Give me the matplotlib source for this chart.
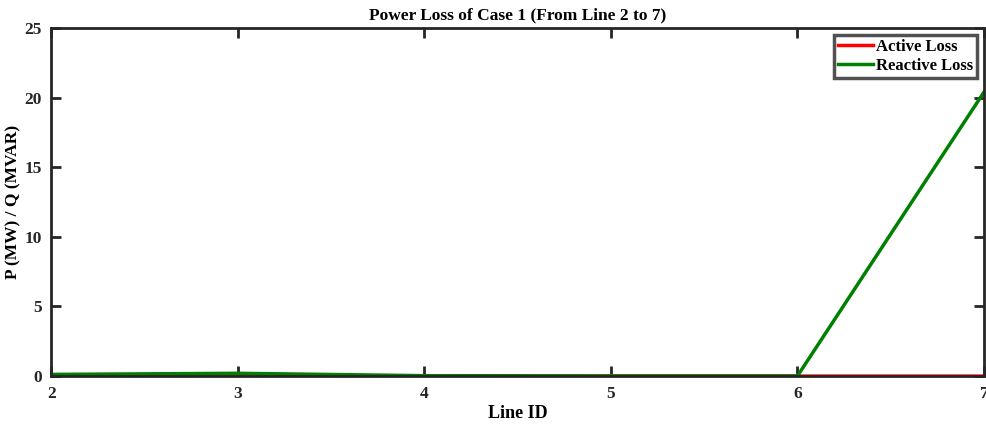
import matplotlib.pyplot as plt

plt.rcParams['font.family'] = ['Liberation Serif', 'DejaVu Serif']
plt.rcParams['font.weight'] = 'bold'

# loss per line, case 1
line_id = [2, 3, 4, 5, 6, 7]
active_loss = [0.02, 0.05, 0.01, 0.0, 0.0, 0.0]
reactive_loss = [0.12, 0.2, 0.03, 0.01, 0.01, 20.4]

fig = plt.figure(figsize=(9.86, 4.24), dpi=100)
ax = fig.add_axes([0.052, 0.113, 0.946, 0.821])

ax.plot(line_id, active_loss, color='red', linewidth=2.5, label='Active Loss')
ax.plot(line_id, reactive_loss, color='green', linewidth=2.5, label='Reactive Loss')

ax.set_xlim(2, 7)
ax.set_ylim(0, 25)
ax.set_xticks([2, 3, 4, 5, 6, 7])
ax.set_yticks([0, 5, 10, 15, 20, 25])
ax.tick_params(direction='in', length=7, width=2, top=True, right=True,
               labelsize=12.5, colors='#262626')
ax.tick_params(axis='x', pad=7)
ax.tick_params(axis='y', pad=7)
for lbl in ax.get_xticklabels() + ax.get_yticklabels():
    lbl.set_fontweight('bold')
for sp in ax.spines.values():
    sp.set_linewidth(2)
    sp.set_color('#262626')

ax.set_title('Power Loss of Case 1 (From Line 2 to 7)', fontsize=12.5, fontweight='bold', pad=6)
ax.set_xlabel('Line ID', fontsize=13, fontweight='bold', labelpad=2)
ax.set_ylabel('P (MW) / Q (MVAR)', fontsize=12.5, fontweight='bold', labelpad=2)

leg = ax.legend(loc='upper right', fontsize=12, frameon=True, fancybox=False,
                handlelength=2.1, handletextpad=0.2, borderpad=0.25,
                labelspacing=0.2, borderaxespad=0.4)
leg.get_frame().set_edgecolor('#262626')
leg.get_frame().set_linewidth(2.5)
for t in leg.get_texts():
    t.set_fontweight('bold')

fig.savefig('out.png', dpi=100)
